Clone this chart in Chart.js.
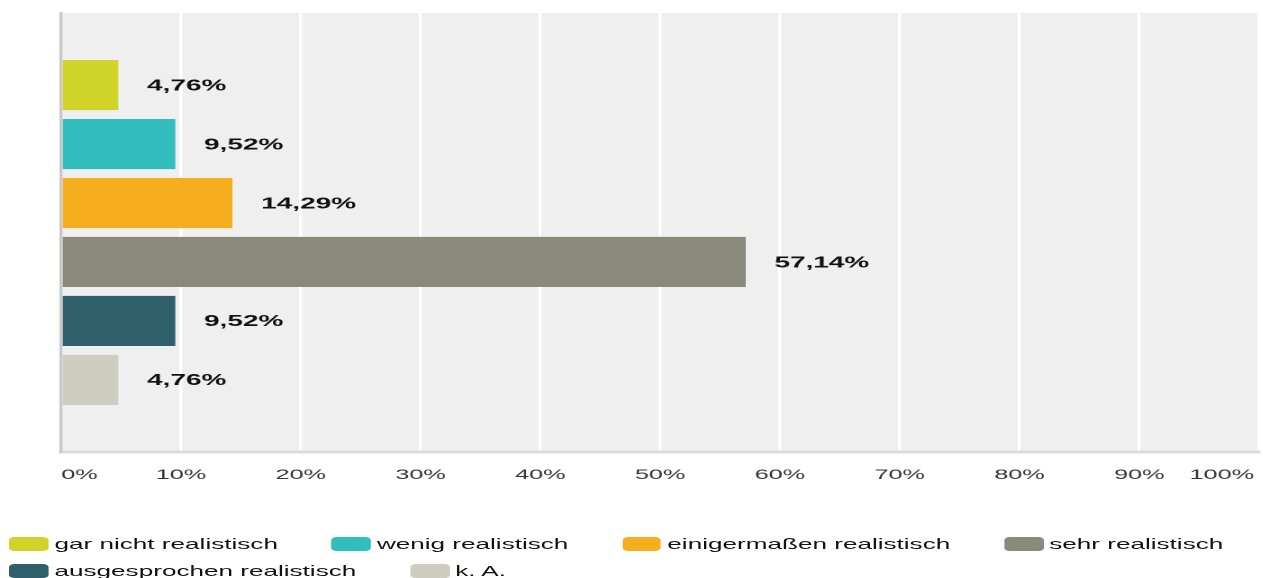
<!DOCTYPE html>
<html>
<head>
<meta charset="utf-8">
<script src="https://cdn.jsdelivr.net/npm/chart.js@4"></script>
<style>
html,body{margin:0;padding:0;background:#fff;overflow:hidden;}
#stage{position:absolute;left:0;top:0;width:701.67px;height:578px;transform:scaleX(1.8);transform-origin:0 0;}
#chartBox{position:absolute;left:0;top:0;width:701.67px;height:500px;}
#legend{position:absolute;left:5.3px;top:537px;width:696px;display:flex;flex-wrap:wrap;row-gap:13px;column-gap:30px;
font-family:"Liberation Sans",Arial,sans-serif;font-size:14.5px;color:#111;}
.item{display:flex;align-items:center;height:14px;}
.box{width:21.7px;height:14px;border-radius:3px;margin-right:3.3px;}
</style>
</head>
<body>
<div id="stage">
<div id="chartBox"><canvas id="chart"></canvas></div>
<div id="legend"></div>
</div>
<script>
const categories = ['gar nicht realistisch','wenig realistisch','einigermaßen realistisch','sehr realistisch','ausgesprochen realistisch','k. A.'];
const values = [4.76, 9.52, 14.29, 57.14, 9.52, 4.76];
const colors = ['#d0d32a','#33bdbf','#f6ae1f','#898a79','#2e5f6b','#cfcdbf'];
const tickValues = [0,10,20,30,40,50,60,70,80,90,100];
const tickLabels = ['0%','10%','20%','30%','40%','50%','60%','70%','80%','90%','100%'];

const fontFamily = '"Liberation Sans", Arial, sans-serif';

const plotBackground = {
id:'plotBackground',
beforeDraw(chart){
const {ctx, chartArea:a} = chart;
ctx.save();
ctx.fillStyle = '#efefef';
ctx.fillRect(a.left, a.top, a.right - a.left, a.bottom - a.top);
ctx.restore();
}
};

const valueLabels = {
id:'valueLabels',
afterDatasetsDraw(chart){
const ctx = chart.ctx;
ctx.save();
ctx.font = 'bold 15.5px ' + fontFamily;
ctx.fillStyle = '#111';
ctx.textAlign = 'left';
ctx.textBaseline = 'middle';
chart.data.datasets.forEach((ds, i) => {
const el = chart.getDatasetMeta(i).data[0];
const txt = ds.data[0].toFixed(2).replace('.', ',') + '%';
ctx.fillText(txt, el.x + 16, el.y + 1);
});
ctx.restore();
}
};

const axisLabels = {
id:'axisLabels',
afterDraw(chart){
const {ctx, chartArea:a} = chart;
const xs = chart.scales.x;
ctx.save();
ctx.font = '14px ' + fontFamily;
ctx.fillStyle = '#333';
ctx.textBaseline = 'middle';
tickValues.forEach((v, i) => {
let x = xs.getPixelForValue(v);
ctx.textAlign = 'center';
if(i === 0) ctx.textAlign = 'left';
if(i === tickValues.length - 1){ ctx.textAlign = 'right'; x -= 2.8; }
ctx.fillText(tickLabels[i], x, a.bottom + 23);
});
ctx.restore();
}
};

new Chart(document.getElementById('chart'), {
type:'bar',
data:{
labels:[''],
datasets:categories.map((c, i) => ({
label:c,
data:[values[i]],
backgroundColor:colors[i],
categoryPercentage:0.806,
barPercentage:0.85
}))
},
options:{
indexAxis:'y',
responsive:true,
maintainAspectRatio:false,
animation:false,
devicePixelRatio:2,
layout:{padding:{top:13,left:34,right:2.7,bottom:0}},
plugins:{legend:{display:false},tooltip:{enabled:false}},
scales:{
x:{
type:'linear',
min:0,
max:100,
ticks:{display:false,stepSize:10},
grid:{color:'#ffffff',lineWidth:1.7,drawTicks:false},
border:{display:true,color:'#dcdcdc',width:3},
afterFit(scale){ scale.height = 48; }
},
y:{
ticks:{display:false},
grid:{display:false,drawTicks:false},
border:{display:true,color:'#c8c8c8',width:1.7},
afterFit(scale){ scale.width = 0; }
}
}
},
plugins:[plotBackground, valueLabels, axisLabels]
});

const legend = document.getElementById('legend');
categories.forEach((c, i) => {
const item = document.createElement('div');
item.className = 'item';
item.innerHTML = `<span class="box" style="background:${colors[i]}"></span><span>${c}</span>`;
legend.appendChild(item);
});
</script>
</body>
</html>
